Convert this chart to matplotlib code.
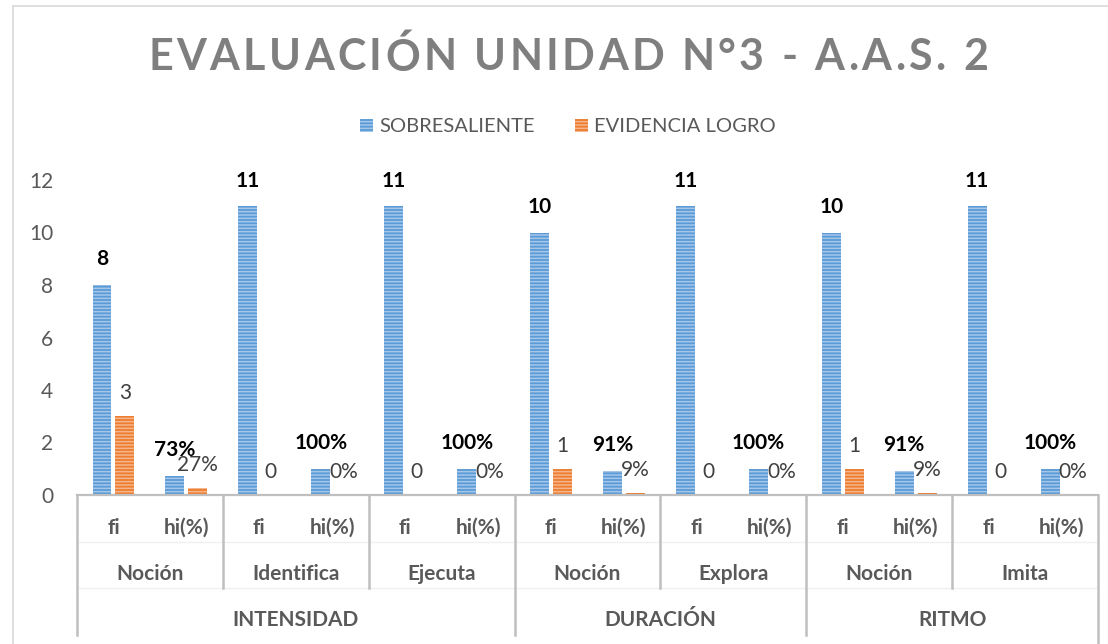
import matplotlib
matplotlib.use("Agg")
import matplotlib.pyplot as plt
import matplotlib.transforms as mtransforms
from matplotlib.patches import Patch
from matplotlib.lines import Line2D
from matplotlib.font_manager import FontProperties

plt.rcParams['font.family'] = ['Lato', 'DejaVu Sans']
plt.rcParams['hatch.linewidth'] = 1.1

# ---- data ----
title = "EVALUACIÓN UNIDAD N°3 - A.A.S. 2"
series_names = ["SOBRESALIENTE", "EVIDENCIA LOGRO"]
measures = ["fi", "hi(%)"] * 7
subgroups = ["Noción", "Identifica", "Ejecuta", "Noción", "Explora", "Noción", "Imita"]
groups = ["INTENSIDAD", "DURACIÓN", "RITMO"]
group_sizes = [3, 2, 2]  # subgroups per group
sobresaliente = [8, 0.73, 11, 1.00, 11, 1.00, 10, 0.91, 11, 1.00, 10, 0.91, 11, 1.00]
evidencia = [3, 0.27, 0, 0, 0, 0, 1, 0.09, 0, 0, 1, 0.09, 0, 0]
yticks = [0, 2, 4, 6, 8, 10, 12]

W, H = 1108, 644
fig = plt.figure(figsize=(W / 100, H / 100), dpi=100)
ax = fig.add_axes([77 / W, (H - 495) / H, (1098 - 77) / W, (495 - 180) / H])

n = len(measures)
xs = list(range(n))
bw = 0.26
off = 0.157
blue, blue_l = '#5B9BD5', '#A3C6EA'
orange, orange_l = '#ED7D31', '#F6B58A'

b1 = ax.bar([x - off for x in xs], sobresaliente, bw, color=blue, edgecolor=blue_l,
            hatch='-----', linewidth=0, zorder=2)
b2 = ax.bar([x + off for x in xs], evidencia, bw, color=orange, edgecolor=orange_l,
            hatch='-----', linewidth=0, zorder=2)

def fmt(v, m):
    return f"{round(v * 100):d}%" if m == "hi(%)" else f"{v:g}"

for i, (v, m) in enumerate(zip(sobresaliente, measures)):
    ax.annotate(fmt(v, m), (i - off, v), xytext=(0, 18.5), textcoords='offset points',
                ha='center', va='center', fontsize=15, fontweight='bold', color='black')
for i, (v, m) in enumerate(zip(evidencia, measures)):
    ax.annotate(fmt(v, m), (i + off, v), xytext=(0, 16.5), textcoords='offset points',
                ha='center', va='center', fontsize=15, color='#404040')

ax.set_xlim(-0.5, n - 0.5)
ax.set_ylim(0, 12)
ax.set_yticks(yticks)
ax.tick_params(axis='y', length=0, pad=17, labelsize=15, labelcolor='#595959')
ax.set_xticks([])
for s in ax.spines.values():
    s.set_visible(False)

# ---- multi-level category axis ----
axc = '#BFBFBF'
tr = mtransforms.blended_transform_factory(ax.transData, ax.transAxes)
ph = 495 - 180
def fy(py):
    return -(py - 495) / ph

ax.plot([-0.5, n - 0.5], [0, 0], transform=tr, color=axc, lw=1.6, clip_on=False, zorder=3)
for yy in (542, 588):
    ax.plot([-0.5, n - 0.5], [fy(yy), fy(yy)], transform=tr, color='#F0F0F0', lw=1.0,
            clip_on=False, zorder=1)

for i, m in enumerate(measures):
    ax.text(i, fy(528), m, transform=tr, ha='center', va='center', fontsize=15,
            fontweight='bold', color='#595959')
for k, sg in enumerate(subgroups):
    ax.text(2 * k + 0.5, fy(574), sg, transform=tr, ha='center', va='center', fontsize=15,
            fontweight='bold', color='#595959')

bounds = [-0.5]
for gs in group_sizes:
    bounds.append(bounds[-1] + 2 * gs)
for k in range(len(subgroups) + 1):
    x = -0.5 + 2 * k
    if x in bounds:
        bottom = fy(644) if x == bounds[-1] else fy(635)
    else:
        bottom = fy(588)
    ax.plot([x, x], [0, bottom], transform=tr, color=axc, lw=1.8, clip_on=False, zorder=3)
for g, a, b in zip(groups, bounds[:-1], bounds[1:]):
    ax.text((a + b) / 2, fy(620), g, transform=tr, ha='center', va='center', fontsize=15,
            fontweight='bold', color='#595959')

# ---- legend ----
handles = [Patch(facecolor=blue, edgecolor=blue_l, hatch='-----', linewidth=0),
           Patch(facecolor=orange, edgecolor=orange_l, hatch='-----', linewidth=0)]
fig.legend(handles, series_names, loc='center', bbox_to_anchor=(568 / W, 1 - 127 / H),
           ncol=2, frameon=False, fontsize=14.5, labelcolor='#595959', handlelength=0.65,
           handleheight=0.65, handletextpad=0.3, columnspacing=2.0)

# ---- title with letter spacing ----
renderer = fig.canvas.get_renderer()
fp = FontProperties(family=['Lato', 'DejaVu Sans'], weight='bold', size=31)
widths = [renderer.get_text_width_height_descent(c, fp, ismath=False)[0] for c in title]
target = 988 - 148
spacing = (target - sum(widths)) / (len(title) - 1)
x0 = 568 - target / 2
for c, w in zip(title, widths):
    fig.text(x0 / W, 1 - 57 / H, c, fontproperties=fp, color='#7F7F7F', ha='left',
             va='center')
    x0 += w + spacing

# ---- outer chart border ----
fig.add_artist(Line2D([13 / W, 13 / W], [0, 1 - 6 / H], color='#D9D9D9', lw=1.2))
fig.add_artist(Line2D([13 / W, 1], [1 - 6 / H, 1 - 6 / H], color='#D9D9D9', lw=1.2))

fig.savefig('out.png', dpi=100)
